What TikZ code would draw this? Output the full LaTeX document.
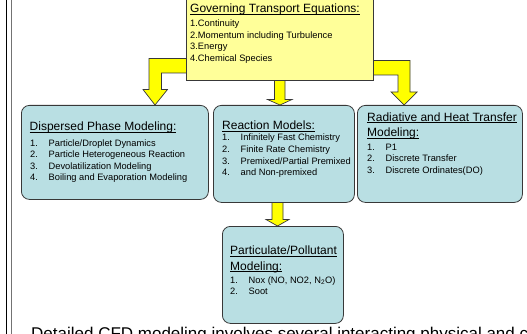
\documentclass[tikz,border=0pt]{standalone}
\usepackage{fontspec}
\setmainfont{Liberation Sans}
\definecolor{govyel}{HTML}{FFFF99}
\definecolor{arryel}{HTML}{FFFF00}
\definecolor{boxteal}{HTML}{B9DFE3}
\definecolor{bord}{HTML}{383838}
\newcommand\ttl{\fontsize{12}{14}\selectfont}
\newcommand\itf{\fontsize{9.3}{11}\selectfont}
\newsavebox\myulbox
\newcommand\myul[1]{\sbox\myulbox{#1}\usebox\myulbox\llap{\rule[-1.9pt]{\wd\myulbox}{0.7pt}}}
\newcommand\myitem[4]{\node[itm] (#1) at (#2) {\makebox[18.5pt][l]{#3}#4};}
\begin{document}
\begin{tikzpicture}[x=1pt,y=-1pt,
  gbox/.style={draw=bord, line width=0.8pt, fill=govyel, inner sep=0pt, anchor=north west},
  mbox/.style={draw=bord, line width=0.8pt, fill=boxteal, rounded corners=8pt, inner sep=0pt, anchor=north west},
  arr/.style={draw=bord, line width=0.7pt, fill=arryel, line join=miter},
  ttlnode/.style={anchor=base west, inner sep=0pt, font=\ttl},
  itm/.style={anchor=base west, inner sep=0pt, font=\itf}]
\useasboundingbox (0,0) rectangle (527,334);
\clip (0,0) rectangle (527,334);
% left double rule
\draw[line width=1.3pt, black] (6.5,0) -- (6.5,334);
\draw[line width=1.6pt, black!55] (11.5,0) -- (11.5,334);
% block arrows (drawn first, boxes cover their joints)
\filldraw[arr] (190,58.5) -- (149,58.5) -- (149,89.5) -- (143,89.5) -- (155,105) -- (167.5,89.5) -- (161.5,89.5) -- (161.5,73) -- (190,73);
\filldraw[arr] (274.5,76) -- (274.5,99.5) -- (267.5,99.5) -- (280,105) -- (292,99.5) -- (285,99.5) -- (285,76);
\filldraw[arr] (369,60.5) -- (410,60.5) -- (410,92) -- (417,92) -- (404,105) -- (391,92) -- (398,92) -- (398,75) -- (369,75);
\filldraw[arr] (272,198) -- (272,219.5) -- (266,219.5) -- (277.5,226) -- (289,219.5) -- (283,219.5) -- (283,198);
% boxes (named)
\node[gbox, minimum width=187pt, minimum height=84pt] (gov) at (186,-4) {};
\node[mbox, minimum width=187pt, minimum height=94pt] (disp) at (21,105) {};
\node[mbox, minimum width=141pt, minimum height=97pt] (react) at (213,105) {};
\node[mbox, minimum width=165pt, minimum height=97pt] (rad) at (357,105) {};
\node[mbox, minimum width=121pt, minimum height=97pt] (part) at (222,226) {};
% Governing text
\node[ttlnode] (gt) at (190,12.6) {\myul{Governing Transport Equations:}};
\node[itm] (g1) at (190,26.6) {1.Continuity};
\node[itm] (g2) at (190,38.3) {2.Momentum including Turbulence};
\node[itm] (g3) at (190,50) {3.Energy};
\node[itm] (g4) at (190,61.6) {4.Chemical Species};
% Dispersed
\node[ttlnode] (dt) at (29.5,131) {\myul{Dispersed Phase Modeling:}};
\myitem{d1}{30,146.6}{1.}{Particle/Droplet Dynamics}
\myitem{d2}{30,157.8}{2.}{Particle Heterogeneous Reaction}
\myitem{d3}{30,169.2}{3.}{Devolatilization Modeling}
\myitem{d4}{30,180.8}{4.}{Boiling and Evaporation Modeling}
% Reaction
\node[ttlnode] (rt) at (222,129.3) {\myul{Reaction Models:}};
\myitem{r1}{222,140.8}{1.}{Infinitely Fast Chemistry}
\myitem{r2}{222,152.4}{2.}{Finite Rate Chemistry}
\myitem{r3}{222,164}{3.}{Premixed/Partial Premixed}
\myitem{r4}{222,175.6}{4.}{and Non-premixed}
% Radiative
\node[ttlnode] (at1) at (367,121.3) {\myul{Radiative and Heat Transfer}};
\node[ttlnode] (at2) at (367,136.3) {\myul{Modeling:}};
\myitem{a1}{367,150.3}{1.}{P1}
\myitem{a2}{367,161.7}{2.}{Discrete Transfer}
\myitem{a3}{367,173.3}{3.}{Discrete Ordinates(DO)}
% Particulate
\node[ttlnode] (pt1) at (230,254.3) {\myul{Particulate/Pollutant}};
\node[ttlnode] (pt2) at (230,270) {\myul{Modeling:}};
\myitem{p1}{230,283.3}{1.}{Nox (NO, NO2, N\textsubscript{2}O)}
\myitem{p2}{230,294.4}{2.}{Soot}
% bottom caption (cut off by the picture's edge, as in the reference)
\node[anchor=base west, inner sep=0pt, font=\fontsize{17}{20}\selectfont] (cap) at (31,339.2) {Detailed CFD modeling involves several interacting physical and chemical processes};
\end{tikzpicture}
\end{document}
